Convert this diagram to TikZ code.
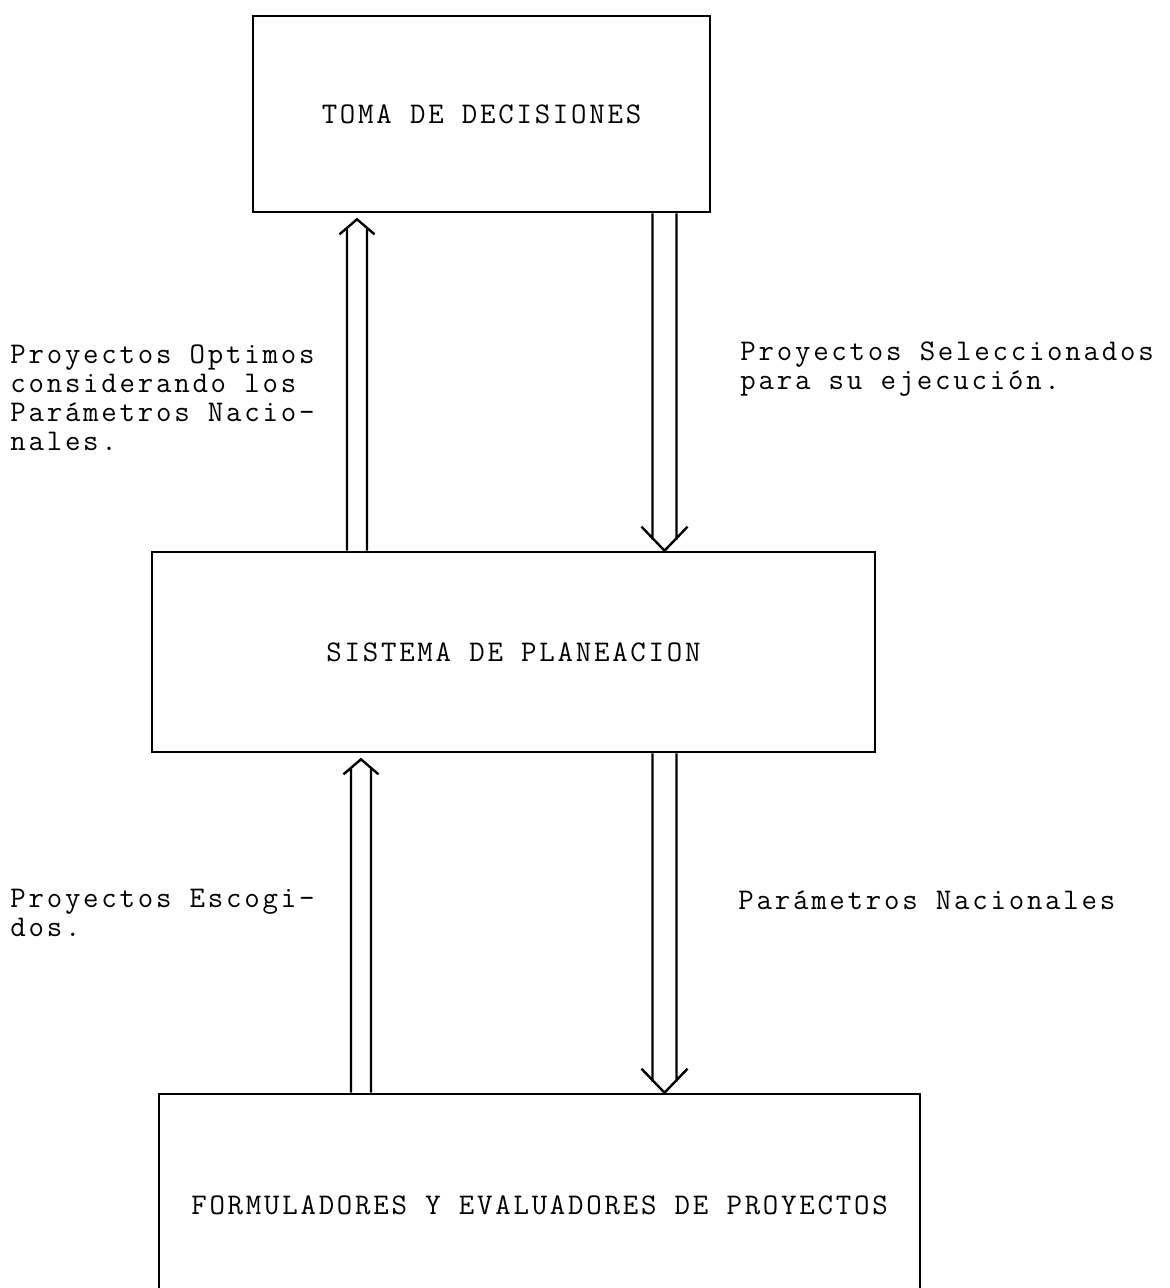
\documentclass[tikz,border=0pt]{standalone}
\usepackage{fontspec}
\setmonofont{Latin Modern Mono}[LetterSpace=9.2]
\newcommand{\typefont}{\ttfamily\fontsize{15}{14.5}\selectfont}
\tikzset{
    box/.style={draw, line width=1.3pt, inner sep=0pt, font=\typefont},
    note/.style={inner sep=0pt, align=left, font=\typefont},
    flowline/.style={line width=1.2pt},
    hollowup/.style={to path={
        ([xshift=-5pt]\tikztostart) -- ([xshift=-5pt,yshift=-7pt]\tikztotarget)
        ([xshift=5pt]\tikztostart) -- ([xshift=5pt,yshift=-7pt]\tikztotarget)
        ([xshift=-8.75pt,yshift=-10.5pt]\tikztotarget) -- ([yshift=-3pt]\tikztotarget)
            -- ([xshift=8.75pt,yshift=-10.5pt]\tikztotarget)}},
    hollowdown/.style={to path={
        ([xshift=-6pt]\tikztostart) -- ([xshift=-6pt,yshift=5.5pt]\tikztotarget)
        ([xshift=6pt]\tikztostart) -- ([xshift=6pt,yshift=5.5pt]\tikztotarget)
        ([xshift=-11.5pt,yshift=12pt]\tikztotarget) -- (\tikztotarget)
            -- ([xshift=11.5pt,yshift=12pt]\tikztotarget)}}
}
\begin{document}
\begin{tikzpicture}[x=0.5pt, y=-0.5pt]
    % Page frame
    \useasboundingbox (0,0) rectangle (1170,1288);
    \clip (0,0) rectangle (1170,1288);

    % Draw boxes
    \node[box, minimum width=228.5pt, minimum height=98pt] (toma) at (481.5,114) {TOMA DE DECISIONES};
    \node[box, minimum width=361.5pt, minimum height=100pt] (sistema) at (513.5,652) {SISTEMA DE PLANEACION};
    \node[box, minimum width=380.5pt, minimum height=111pt] (formuladores) at (539.5,1205) {FORMULADORES Y EVALUADORES DE PROYECTOS};

    % Arrow columns
    \coordinate (upa) at (357,0);
    \coordinate (upb) at (361,0);
    \coordinate (down) at (664.5,0);

    % Draw arrows
    \draw[flowline, hollowup] (sistema.north -| upa) to (toma.south -| upa);
    \draw[flowline, hollowdown] (toma.south -| down) to (sistema.north -| down);
    \draw[flowline, hollowup] (formuladores.north -| upb) to (sistema.south -| upb);
    \draw[flowline, hollowdown] (sistema.south -| down) to (formuladores.north -| down);

    % Add labels
    \node[note, anchor=west] (optimos) at (10,397.5) {Proyectos Optimos\\considerando los\\Parámetros Nacio-\\nales.};
    \node[note, anchor=west] (seleccionados) at (740,369) {Proyectos Seleccionados\\para su ejecución.};
    \node[note, anchor=west] (escogidos) at (10,913) {Proyectos Escogi-\\dos.};
    \node[note, anchor=west] (parametros) at (738,900) {Parámetros Nacionales};
\end{tikzpicture}
\end{document}
